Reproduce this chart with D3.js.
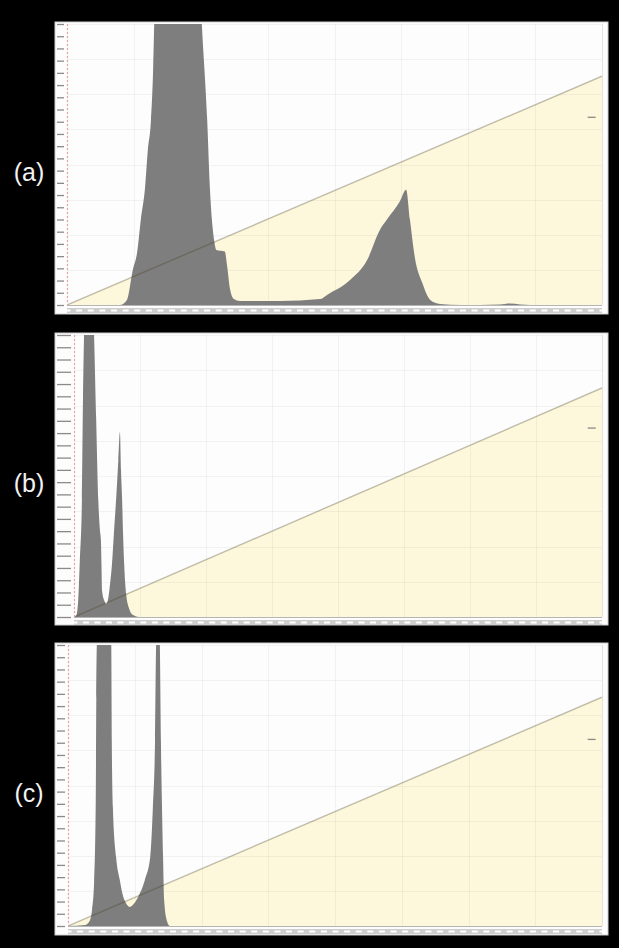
<!DOCTYPE html>
<html>
<head>
<meta charset="utf-8">
<script src="https://cdn.jsdelivr.net/npm/d3@7"></script>
<style>
  html, body { margin: 0; padding: 0; background: #000; }
  svg { display: block; }
</style>
</head>
<body>
<svg id="svg" width="619" height="948"></svg>
<script>
// Panel labels
var panelLabels = ["(a)", "(b)", "(c)"]

// Histogram values (channel 0..1000, counts in % of the visible range; >100 is off the top)
var channelA = [0, 99, 112, 123, 131, 138, 146, 151, 157, 161, 163, 170, 240, 252, 262, 267, 275, 279, 295, 299, 305, 312, 323, 398, 473, 486, 529, 561, 585, 598, 622, 634, 641, 650, 664, 679, 697, 735, 809, 828, 847, 884, 1000]
var countA = [0, 0, 1.8, 12.5, 18.6, 30.4, 42, 55, 66, 84, 100, 150, 150, 100, 66, 42, 23, 19.6, 19, 14.3, 5.4, 2.1, 1.4, 1.4, 2.1, 3.6, 8.9, 16, 26.8, 30.4, 36.8, 41, 30.4, 17.1, 7.9, 1.8, 0.4, 0, 0.2, 0.5, 0.2, 0, 0]

var channelB = [0, 4, 8, 11, 15, 17, 19, 23, 32, 38, 42, 46, 49, 51, 52, 53, 57, 61, 65, 68, 72, 76, 80, 84, 87, 89, 91, 93, 95, 99, 104, 112, 123, 1000]
var countB = [0, 0.4, 6, 20, 41.5, 77, 100, 130, 130, 100, 70, 41.5, 31, 27, 19, 9.6, 6, 4.6, 6.7, 11.3, 19, 31, 42.5, 55.7, 65.6, 52, 42.5, 29, 19, 7.8, 3.2, 0.7, 0, 0]

var channelC = [0, 32, 41, 45, 49, 52, 53, 54, 60, 75, 81, 82, 84, 90, 97, 102, 109, 116, 123, 135, 144, 154, 159, 163, 165, 169, 172, 174, 176, 178, 180, 185, 191, 1000]
var countC = [0, 0.4, 2, 5.7, 16, 45, 81, 100, 116, 116, 100, 66, 42.5, 24.6, 16.4, 11.5, 8, 6.8, 7.8, 11.8, 16.4, 24.6, 42.5, 66, 100, 116, 100, 66, 42.5, 24.6, 9.3, 2, 0, 0]

// Diagonal reference line: value at the right end of each panel
var diagonalEnd = [81.4, 81.2, 81.4]
// Small marker on the right side of each panel
var markerLevel = [66.8, 67, 66.4]

var channels = [channelA, channelB, channelC]
var counts = [countA, countB, countC]

// Panel boxes (pixels)
var panels = [
  { top: 22, bottom: 314, plotLeft: 67, plotTop: 24, plotBottom: 305, labelY: 181 },
  { top: 333, bottom: 625, plotLeft: 74, plotTop: 335, plotBottom: 617, labelY: 492 },
  { top: 643, bottom: 935, plotLeft: 68, plotTop: 645, plotBottom: 926, labelY: 802 }
]
var panelLeft = 55, panelRight = 608, plotRight = 602

var svg = d3.select("#svg")

svg.append("rect").attr("width", 619).attr("height", 948).attr("fill", "#000")

panels.forEach((p, k) => {
  let x = d3.scaleLinear().domain([0, 1000]).range([p.plotLeft, plotRight])
  let y = d3.scaleLinear().domain([0, 100]).range([p.plotBottom, p.plotTop])

  let data = channels[k].map((c, i) => ({ c: c, v: counts[k][i] }))

  // panel background
  svg.append("rect")
    .attr("x", panelLeft).attr("y", p.top)
    .attr("width", panelRight - panelLeft).attr("height", p.bottom - p.top)
    .attr("fill", "#fdfdfd")
    .attr("stroke", "#cfcfcf")

  // clip for the plot
  let clipId = "clip" + k
  svg.append("clipPath").attr("id", clipId)
    .append("rect")
    .attr("x", p.plotLeft).attr("y", p.plotTop)
    .attr("width", plotRight - p.plotLeft).attr("height", p.plotBottom - p.plotTop)

  let g = svg.append("g").attr("clip-path", "url(#" + clipId + ")")

  // yellow area below the diagonal
  let diag = [{ c: 0, v: 0 }, { c: 1000, v: diagonalEnd[k] }]
  g.append("path")
    .datum(diag)
    .attr("fill", "#fdf7dc")
    .attr("d", d3.area().x(d => x(d.c)).y0(y(0)).y1(d => y(d.v)))

  // faint grid
  let grid = g.append("g").attr("stroke", "rgba(0,0,0,0.045)").attr("stroke-width", 1)
  grid.selectAll(".vg")
    .data(d3.range(0, 1001, 125))
    .enter().append("line")
    .attr("x1", d => Math.round(x(d)) + 0.5).attr("x2", d => Math.round(x(d)) + 0.5)
    .attr("y1", p.plotTop).attr("y2", p.plotBottom)
  grid.selectAll(".hg")
    .data(d3.range(0, 101, 100 / 8))
    .enter().append("line")
    .attr("y1", d => Math.round(y(d)) + 0.5).attr("y2", d => Math.round(y(d)) + 0.5)
    .attr("x1", p.plotLeft).attr("x2", plotRight)

  // histogram
  g.append("path")
    .datum(data)
    .attr("fill", "#7e7e7e")
    .attr("d", d3.area().curve(d3.curveMonotoneX).x(d => x(d.c)).y0(y(0)).y1(d => y(d.v)))

  // diagonal line
  g.append("path")
    .datum(diag)
    .attr("fill", "none")
    .attr("stroke", "rgba(70,60,30,0.33)")
    .attr("stroke-width", 1.4)
    .attr("d", d3.line().x(d => x(d.c)).y(d => y(d.v)))

  // right-side marker
  svg.append("line")
    .attr("x1", x(990) - 9).attr("x2", x(990) - 1)
    .attr("y1", y(markerLevel[k])).attr("y2", y(markerLevel[k]))
    .attr("stroke", "#8a8a80").attr("stroke-width", 1.3)

  // right plot edge
  svg.append("line")
    .attr("x1", plotRight + 0.5).attr("x2", plotRight + 0.5)
    .attr("y1", p.plotTop).attr("y2", p.plotBottom)
    .attr("stroke", "#e2e2e2")

  // left axis: red dotted line and ticks
  svg.append("line")
    .attr("x1", p.plotLeft + 0.5).attr("x2", p.plotLeft + 0.5)
    .attr("y1", p.plotTop).attr("y2", p.plotBottom)
    .attr("stroke", "#f0a0a0").attr("stroke-width", 1.2)
    .attr("stroke-dasharray", "2,2")

  let yAxis = svg.append("g")
    .attr("transform", "translate(" + (p.plotLeft - 3) + ",0)")
    .call(d3.axisLeft(y)
      .tickValues(d3.range(0, 101, 100 / 23))
      .tickSize(p.plotLeft - 3 - 57)
      .tickFormat(""))
  yAxis.select(".domain").remove()
  yAxis.selectAll(".tick line").attr("stroke", "#8a8a8a").attr("stroke-width", 1.3)

  // bottom axis
  svg.append("line")
    .attr("x1", p.plotLeft).attr("x2", plotRight)
    .attr("y1", p.plotBottom + 0.5).attr("y2", p.plotBottom + 0.5)
    .attr("stroke", "#b5b5b5")
  svg.append("rect")
    .attr("x", p.plotLeft).attr("y", p.plotBottom + 3)
    .attr("width", plotRight - p.plotLeft).attr("height", 5)
    .attr("fill", "#cdcdcd")
  let xAxis = svg.append("g")
    .attr("transform", "translate(0," + (p.plotBottom + 5.5) + ")")
    .call(d3.axisBottom(x)
      .tickValues(d3.range(0, 1001, 1000 / 46))
      .tickSize(0)
      .tickFormat(""))
  xAxis.select(".domain").remove()
  xAxis.selectAll(".tick").append("rect")
    .attr("x", -3).attr("y", -1).attr("width", 6).attr("height", 2)
    .attr("fill", "#ffffff")

  // panel label
  svg.append("text")
    .attr("x", 29).attr("y", p.labelY)
    .attr("text-anchor", "middle")
    .attr("fill", "#f2f2f2")
    .style("font-family", "'Liberation Sans', Arial, sans-serif")
    .style("font-size", "25px")
    .text(panelLabels[k])
})
</script>
</body>
</html>
